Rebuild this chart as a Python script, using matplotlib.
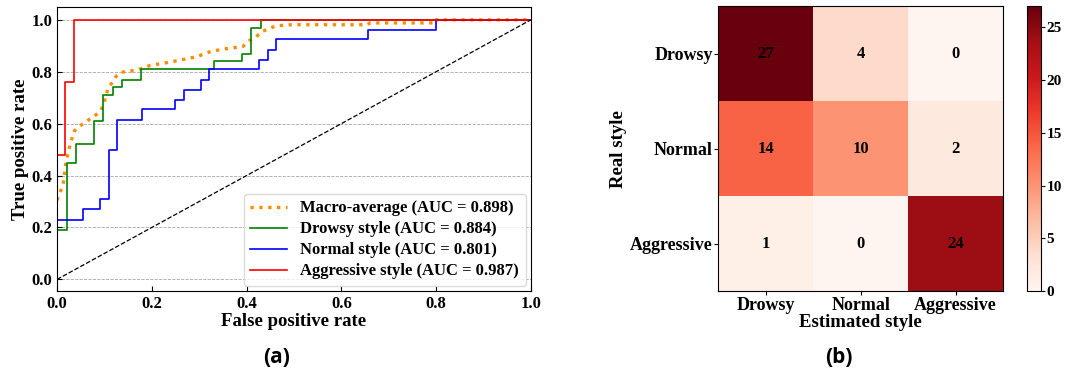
import numpy as np
import matplotlib
matplotlib.use("Agg")
import matplotlib.pyplot as plt

plt.rcParams['font.family'] = ['Liberation Serif', 'DejaVu Serif']
plt.rcParams['font.weight'] = 'bold'
plt.rcParams['axes.labelweight'] = 'bold'

# ROC curves
drowsy_fpr = [0, 0, 0.02, 0.02, 0.04, 0.04, 0.079, 0.079, 0.098, 0.098, 0.118, 0.118,
              0.138, 0.138, 0.177, 0.177, 0.332, 0.332, 0.391, 0.391, 0.41, 0.41, 0.43, 0.43, 1]
drowsy_tpr = [0, 0.19, 0.19, 0.45, 0.45, 0.52, 0.52, 0.61, 0.61, 0.71, 0.71, 0.74,
              0.74, 0.77, 0.77, 0.81, 0.81, 0.84, 0.84, 0.87, 0.87, 0.97, 0.97, 1.0, 1.0]
normal_fpr = [0, 0, 0.054, 0.054, 0.09, 0.09, 0.109, 0.109, 0.126, 0.126, 0.179, 0.179,
              0.25, 0.25, 0.268, 0.268, 0.303, 0.303, 0.321, 0.321, 0.427, 0.427, 0.446, 0.446,
              0.463, 0.463, 0.656, 0.656, 0.80, 0.80, 1]
normal_tpr = [0, 0.23, 0.23, 0.27, 0.27, 0.31, 0.31, 0.50, 0.50, 0.615, 0.615, 0.655,
              0.655, 0.69, 0.69, 0.73, 0.73, 0.77, 0.77, 0.81, 0.81, 0.845, 0.845, 0.885,
              0.885, 0.925, 0.925, 0.962, 0.962, 1.0, 1.0]
aggr_fpr = [0, 0, 0.017, 0.017, 0.036, 0.036, 1]
aggr_tpr = [0, 0.48, 0.48, 0.76, 0.76, 1.0, 1.0]
macro_fpr = [0, 0.007, 0.013, 0.019, 0.027, 0.032, 0.037, 0.049, 0.063, 0.077, 0.091, 0.098,
             0.107, 0.116, 0.124, 0.135, 0.153, 0.17, 0.196, 0.232, 0.263, 0.295, 0.326,
             0.358, 0.392, 0.405, 0.42, 0.43, 0.445, 0.462, 0.495, 0.656, 0.66, 0.80, 0.80, 1.0]
macro_tpr = [0.305, 0.338, 0.367, 0.454, 0.515, 0.546, 0.573, 0.592, 0.61, 0.627, 0.646, 0.672,
             0.733, 0.758, 0.781, 0.798, 0.802, 0.807, 0.824, 0.835, 0.846, 0.858, 0.879,
             0.889, 0.897, 0.919, 0.933, 0.953, 0.964, 0.977, 0.981, 0.981, 0.988, 0.988, 1.0, 1.0]

# confusion matrix
styles = ['Drowsy', 'Normal', 'Aggressive']
conf = np.array([[27, 4, 0],
                 [14, 10, 2],
                 [1, 0, 24]])

fig = plt.figure(figsize=(10.66, 3.8), dpi=100)

# (a) ROC
ax = fig.add_axes([0.0535, 0.234, 0.4445, 0.748])
ax.plot(macro_fpr, macro_tpr, color='darkorange', ls=':', lw=2.4,
        label='Macro-average (AUC = 0.898)')
ax.plot(drowsy_fpr, drowsy_tpr, color='green', lw=1.2, label='Drowsy style (AUC = 0.884)')
ax.plot(normal_fpr, normal_tpr, color='blue', lw=1.2, label='Normal style (AUC = 0.801)')
ax.plot(aggr_fpr, aggr_tpr, color='red', lw=1.2, label='Aggressive style (AUC = 0.987)')
ax.plot([0, 1], [0, 1], 'k--', lw=0.9)
ax.set_xlim(0, 1)
ax.set_ylim(-0.045, 1.05)
ax.set_xticks(np.arange(0, 1.01, 0.2))
ax.set_yticks(np.arange(0, 1.01, 0.2))
ax.tick_params(direction='in', labelsize=12)
ax.yaxis.grid(True, ls='--', color='gray', lw=0.6, alpha=0.7)
ax.set_xlabel('False positive rate', fontsize=13.5, labelpad=1)
ax.set_ylabel('True positive rate', fontsize=13.5, labelpad=2)
ax.legend(loc='lower right', fontsize=12, frameon=True, edgecolor='lightgray',
          borderaxespad=0.3, handlelength=2.2, labelspacing=0.3)
fig.text(0.259, 0.06, '(a)', ha='center', va='center', fontsize=15,
         family='Open Sans', weight='bold')

# (b) confusion matrix
ax2 = fig.add_axes([0.674, 0.234, 0.267, 0.75])
im = ax2.imshow(conf, cmap='Reds', vmin=0, vmax=27, aspect='auto')
for i in range(3):
    for j in range(3):
        ax2.text(j, i, str(conf[i, j]), ha='center', va='center', fontsize=12, color='black')
ax2.set_xticks(range(3))
ax2.set_yticks(range(3))
ax2.set_xticklabels(styles, fontsize=13)
ax2.set_yticklabels(styles, fontsize=13)
ax2.tick_params(length=3, pad=1)
ax2.set_xlabel('Estimated style', fontsize=13.5, labelpad=0)
ax2.set_ylabel('Real style', fontsize=13.5, labelpad=2)
cax = fig.add_axes([0.963, 0.234, 0.0134, 0.75])
cb = fig.colorbar(im, cax=cax, ticks=[0, 5, 10, 15, 20, 25])
cb.ax.tick_params(labelsize=11, length=3, pad=1)
cb.outline.set_linewidth(0.8)
fig.text(0.787, 0.06, '(b)', ha='center', va='center', fontsize=15,
         family='Open Sans', weight='bold')

fig.savefig('out.png', dpi=100)
